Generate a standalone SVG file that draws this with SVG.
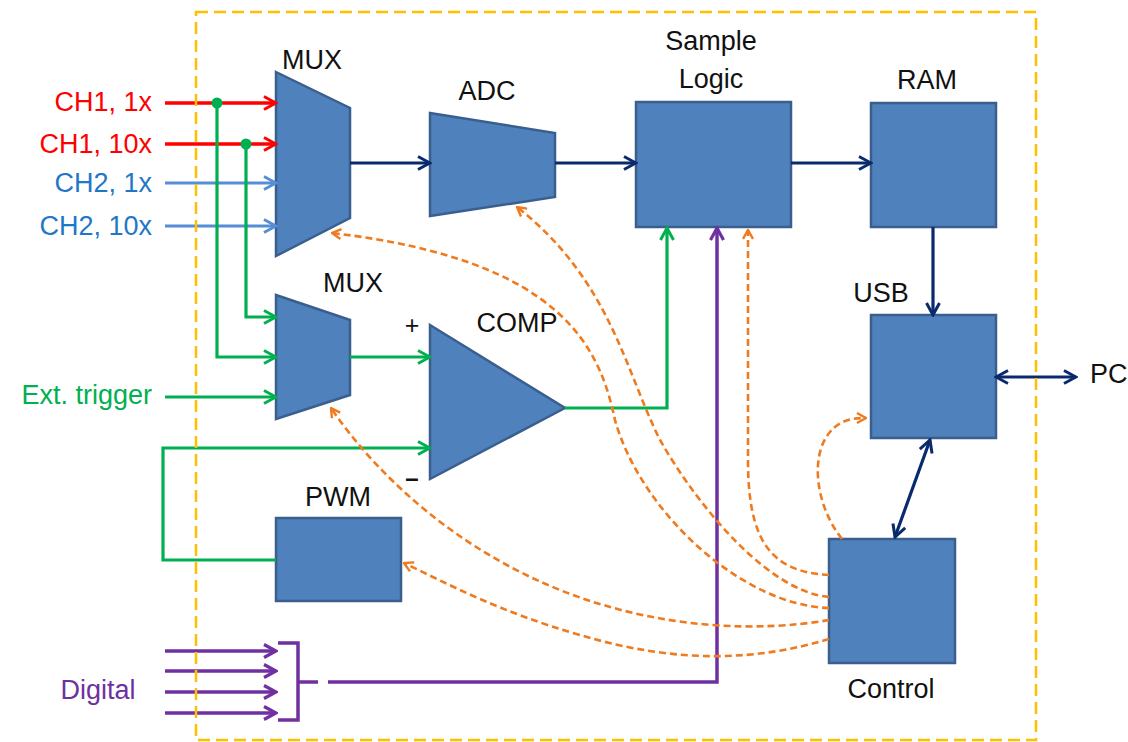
<svg xmlns="http://www.w3.org/2000/svg" width="1128" height="742" viewBox="0 0 1128 742">
<style>
text{font-family:"Liberation Sans",Arial,sans-serif;font-size:27px;fill:#111}
.blk{fill:#4F81BD;stroke:#3A5F8F;stroke-width:2.5}
.red{stroke:#FF0000;stroke-width:3.5;fill:none}
.blu{stroke:#558ED5;stroke-width:3;fill:none}
.grn{stroke:#00B050;stroke-width:3.2;fill:none}
.nav{stroke:#0A2A6E;stroke-width:3.2;fill:none}
.pur{stroke:#7030A0;stroke-width:3.5;fill:none}
.org{stroke:#F07A1E;stroke-width:2.6;fill:none;stroke-dasharray:7 4}
</style>
<defs>
<marker id="aR" viewBox="0 0 16 16" refX="14" refY="8" markerWidth="16" markerHeight="16" markerUnits="userSpaceOnUse" orient="auto"><path d="M2,1.5 L14,8 L2,14.5" fill="none" stroke="#FF0000" stroke-width="3"/></marker>
<marker id="aB" viewBox="0 0 16 16" refX="14" refY="8" markerWidth="16" markerHeight="16" markerUnits="userSpaceOnUse" orient="auto"><path d="M2,1.5 L14,8 L2,14.5" fill="none" stroke="#558ED5" stroke-width="3"/></marker>
<marker id="aG" viewBox="0 0 16 16" refX="14" refY="8" markerWidth="16" markerHeight="16" markerUnits="userSpaceOnUse" orient="auto"><path d="M2,1.5 L14,8 L2,14.5" fill="none" stroke="#00B050" stroke-width="3"/></marker>
<marker id="aN" viewBox="0 0 16 16" refX="14" refY="8" markerWidth="16" markerHeight="16" markerUnits="userSpaceOnUse" orient="auto-start-reverse"><path d="M2,1.5 L14,8 L2,14.5" fill="none" stroke="#0A2A6E" stroke-width="3"/></marker>
<marker id="aP" viewBox="0 0 16 16" refX="14" refY="8" markerWidth="16" markerHeight="16" markerUnits="userSpaceOnUse" orient="auto"><path d="M2,1.5 L14,8 L2,14.5" fill="none" stroke="#7030A0" stroke-width="3.2"/></marker>
<marker id="aO" viewBox="0 0 12 12" refX="11" refY="6" markerWidth="12" markerHeight="12" markerUnits="userSpaceOnUse" orient="auto"><path d="M2,1 L11,6 L2,11" fill="none" stroke="#F07A1E" stroke-width="2.4"/></marker>
</defs>

<g id="inputs">
<text x="152" y="111" text-anchor="end" style="fill:#FF0000">CH1, 1x</text>
<text x="152" y="153" text-anchor="end" style="fill:#FF0000">CH1, 10x</text>
<text x="152" y="192" text-anchor="end" style="fill:#1F77C8">CH2, 1x</text>
<text x="152" y="235" text-anchor="end" style="fill:#1F77C8">CH2, 10x</text>
<text x="152" y="404" text-anchor="end" style="fill:#00B050">Ext. trigger</text>
<text x="98" y="699" text-anchor="middle" style="fill:#7030A0">Digital</text>
<text x="1090" y="383">PC</text>
</g>

<g id="mux1"><polygon class="blk" points="276,72 350,108 350,218 276,256"/><text x="312" y="69" text-anchor="middle">MUX</text></g>
<g id="adc"><polygon class="blk" points="430,113 555,133 555,197 430,216"/><text x="487" y="100" text-anchor="middle">ADC</text></g>
<g id="sample"><rect class="blk" x="636" y="102" width="155" height="125"/><text x="711" y="50" text-anchor="middle">Sample</text><text x="711" y="88" text-anchor="middle">Logic</text></g>
<g id="ram"><rect class="blk" x="871" y="103" width="125" height="124"/><text x="927" y="89" text-anchor="middle">RAM</text></g>
<g id="usb"><rect class="blk" x="871" y="315" width="125" height="123"/><text x="881" y="302" text-anchor="middle">USB</text></g>
<g id="control"><rect class="blk" x="829" y="539" width="126" height="124"/><text x="891" y="698" text-anchor="middle">Control</text></g>
<g id="mux2"><polygon class="blk" points="276,295 350,320 350,395 276,419"/><text x="353" y="292" text-anchor="middle">MUX</text></g>
<g id="comp"><polygon class="blk" points="430,325 565,408 430,479"/><text x="517" y="332" text-anchor="middle">COMP</text><text x="412" y="334" text-anchor="middle" style="font-size:25px">+</text><text x="412" y="486" text-anchor="middle" style="font-size:24px;font-weight:bold">–</text></g>
<g id="pwm"><rect class="blk" x="276" y="518" width="125" height="83"/><text x="338" y="506" text-anchor="middle">PWM</text></g>

<g id="connectors">
<path class="red" d="M165,103 H276" marker-end="url(#aR)"/>
<path class="red" d="M165,144 H276" marker-end="url(#aR)"/>
<path class="blu" d="M165,183 H276" marker-end="url(#aB)"/>
<path class="blu" d="M165,226 H276" marker-end="url(#aB)"/>
<path class="grn" d="M217,103 V357 H276" marker-end="url(#aG)"/>
<path class="grn" d="M246,144 V317 H276" marker-end="url(#aG)"/>
<circle cx="217" cy="103" r="5.5" fill="#00B050"/>
<circle cx="246" cy="144" r="5.5" fill="#00B050"/>
<path class="grn" d="M165,397 H276" marker-end="url(#aG)"/>
<path class="grn" d="M350,357 H430" marker-end="url(#aG)"/>
<path class="grn" d="M276,560 H163 V448 H430" marker-end="url(#aG)"/>
<path class="grn" d="M565,408 H667 V228" marker-end="url(#aG)"/>
<path class="nav" d="M350,163 H430" marker-end="url(#aN)"/>
<path class="nav" d="M555,163 H636" marker-end="url(#aN)"/>
<path class="nav" d="M791,163 H871" marker-end="url(#aN)"/>
<path class="nav" d="M933,227 V315" marker-end="url(#aN)"/>
<path class="nav" d="M996,377 H1076" marker-start="url(#aN)" marker-end="url(#aN)"/>
<path class="nav" d="M930,440 L895,537" marker-start="url(#aN)" marker-end="url(#aN)"/>
<path class="pur" d="M165,651 H276" marker-end="url(#aP)"/>
<path class="pur" d="M165,671 H276" marker-end="url(#aP)"/>
<path class="pur" d="M165,692 H276" marker-end="url(#aP)"/>
<path class="pur" d="M165,713 H276" marker-end="url(#aP)"/>
<path class="pur" d="M278,643 H298 V720 H278 M298,682 H318"/>
<path class="pur" d="M328,682 H717 V228" marker-end="url(#aP)"/>
<path class="org" d="M842,539 C815,505 810,455 830,432 C840,420 852,418 866,418" marker-end="url(#aO)"/>
<path class="org" d="M829,575 C770,572 748,540 748,460 L748,230" marker-end="url(#aO)"/>
<path class="org" d="M829,597 C770,592 700,510 660,440 C625,370 610,280 517,207" marker-end="url(#aO)"/>
<path class="org" d="M829,608 C740,605 640,510 615,420 C600,350 565,260 332,233" marker-end="url(#aO)"/>
<path class="org" d="M829,620 C760,632 660,630 560,590 C460,550 380,480 331,408" marker-end="url(#aO)"/>
<path class="org" d="M829,639 C760,660 680,665 580,635 C500,612 450,585 404,563" marker-end="url(#aO)"/>
</g>

<rect id="border" x="196" y="12" width="840" height="728" fill="none" stroke="#FFC000" stroke-width="2.5" stroke-dasharray="12 6"/>
</svg>
